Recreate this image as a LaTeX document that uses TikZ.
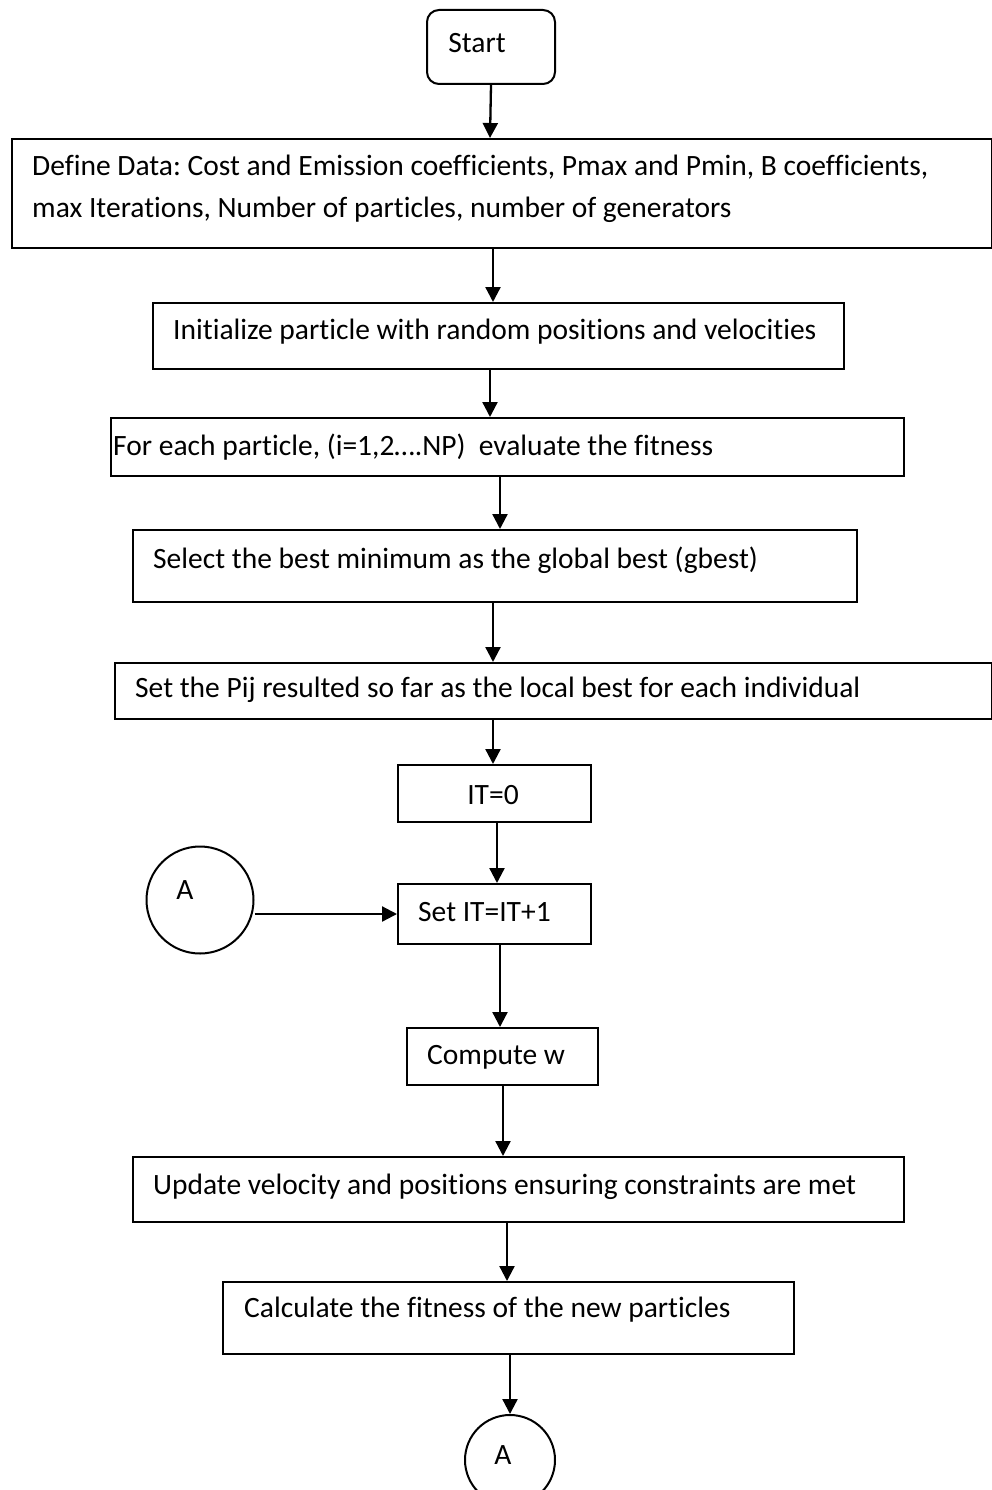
\documentclass[tikz,border=0pt]{standalone}
\usepackage{fontspec}
\setmainfont[Ligatures={NoCommon}]{Carlito}
\usetikzlibrary{positioning,arrows.meta}
\frenchspacing

\begin{document}
\begin{tikzpicture}[x=1pt,y=-1pt,
  box/.style={draw,line width=2pt,inner sep=0pt,anchor=north west},
  lbl/.style={inner sep=0pt,anchor=west,font=\fontsize{29.5}{42}\selectfont,align=left},
  arr/.style={line width=2.3pt,-{Triangle[length=15pt,width=15pt]}},
  conn/.style={draw,line width=2pt,circle,inner sep=0pt}]
\useasboundingbox (0,0) rectangle (992,1490);
% boxes
\node[box,rounded corners=12pt,minimum width=128pt,minimum height=74pt] (start) at (426,9) {};
\node[lbl,anchor=center] (startT) at (477,43) {Start};
\node[box,minimum width=980pt,minimum height=109pt] (define) at (11,138) {};
\node[lbl] (defineT) at (32,189) {Define Data: Cost and Emission coefficients, Pmax and Pmin, B coefficients,\\max Iterations, Number of particles, number of generators};
\node[box,minimum width=691pt,minimum height=66pt] (init) at (152,302) {};
\node[lbl] (initT) at (173,332) {Initialize particle with random positions and velocities};
\node[box,minimum width=793pt,minimum height=58pt] (each) at (110,417) {};
\node[lbl] (eachT) at (113,447) {For each particle, (i=1,2….NP)\ \ evaluate the fitness};
\node[box,minimum width=724pt,minimum height=72pt] (select) at (132,529) {};
\node[lbl] (selectT) at (153,560) {Select the best minimum as the global best (gbest)};
\node[box,minimum width=877pt,minimum height=56pt] (setp) at (114,662) {};
\node[lbl] (setpT) at (135,690) {Set the Pij resulted so far as the local best for each individual};
\node[box,minimum width=193pt,minimum height=57pt] (itzero) at (397,764) {};
\node[lbl,anchor=center] (itzeroT) at (493,795) {IT=0};
\node[box,minimum width=193pt,minimum height=60pt] (setit) at (397,883) {};
\node[lbl] (setitT) at (418,912) {Set IT=IT+1};
\node[box,minimum width=191pt,minimum height=57pt] (compw) at (406,1027) {};
\node[lbl] (compwT) at (427,1057) {Compute w};
\node[box,minimum width=771pt,minimum height=65pt] (update) at (132,1156) {};
\node[lbl] (updateT) at (153,1187) {Update velocity and positions ensuring constraints are met};
\node[box,minimum width=571pt,minimum height=72pt] (calc) at (222,1281) {};
\node[lbl] (calcT) at (244,1310) {Calculate the fitness of the new particles};
% connectors A
\node[conn,minimum size=107pt] (circA) at (200,900) {};
\node[lbl,anchor=center] (circAT) at (185,890) {A};
\node[conn,minimum size=90pt] (circB) at (510,1460) {};
\node[lbl,anchor=center] (circBT) at (503,1455) {A};
% arrows
\draw[arr] (start.south) -- (490,0 |- define.north);
\draw[arr] (493,0 |- define.south) -- (493,0 |- init.north);
\draw[arr] (490,0 |- init.south) -- (490,0 |- each.north);
\draw[arr] (500,0 |- each.south) -- (500,0 |- select.north);
\draw[arr] (493,0 |- select.south) -- (493,0 |- setp.north);
\draw[arr] (493,0 |- setp.south) -- (493,0 |- itzero.north);
\draw[arr] (497,0 |- itzero.south) -- (497,0 |- setit.north);
\draw[arr] (circA.east |- setit.west) -- (setit.west);
\draw[arr] (500,0 |- setit.south) -- (500,0 |- compw.north);
\draw[arr] (503,0 |- compw.south) -- (503,0 |- update.north);
\draw[arr] (507,0 |- update.south) -- (507,0 |- calc.north);
\draw[arr] (circB.north |- calc.south) -- (circB.north);
\end{tikzpicture}
\end{document}
